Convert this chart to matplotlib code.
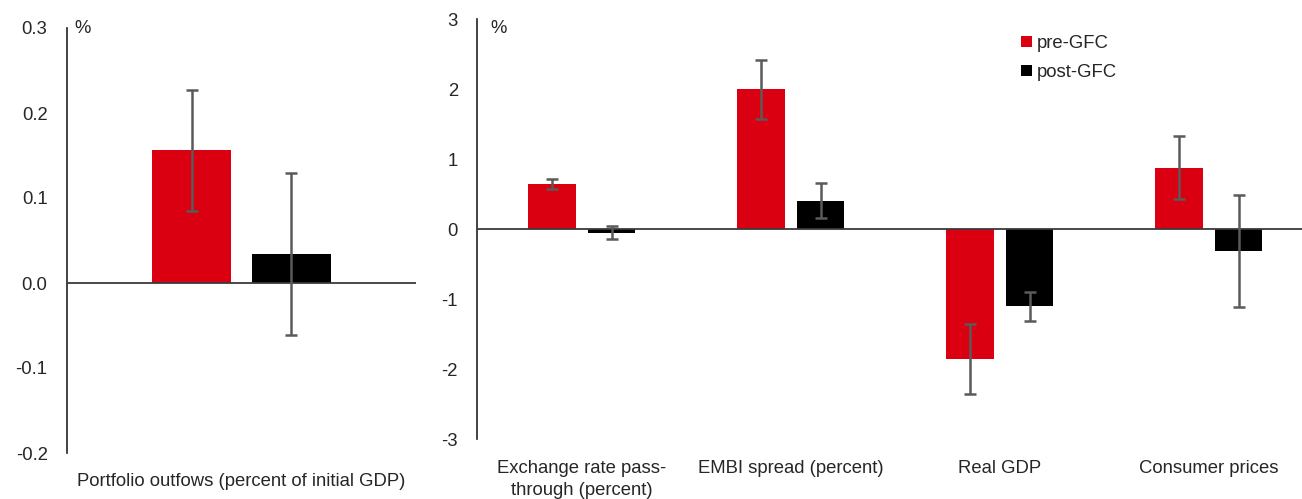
import numpy as np
import matplotlib
matplotlib.use("Agg")
import matplotlib.pyplot as plt

plt.rcParams['font.family'] = ['Liberation Sans', 'DejaVu Sans']

#Series names and colours
series = ["pre-GFC", "post-GFC"]
colors = ["#DB0011", "#000000"]
errColor = "#5a5a5a"
txtColor = "#262626"

#Left panel data
leftCats = ["Portfolio outfows (percent of initial GDP)"]
leftPre = [0.156]
leftPost = [0.034]
leftPreErr = [0.071]
leftPostErr = [0.095]

#Right panel data
rightCats = ["Exchange rate pass-\nthrough (percent)", "EMBI spread (percent)",
             "Real GDP", "Consumer prices"]
rightPre = [0.65, 2.0, -1.85, 0.88]
rightPost = [-0.05, 0.41, -1.10, -0.31]
rightPreErr = [0.07, 0.42, 0.50, 0.45]
rightPostErr = [0.093, 0.245, 0.21, 0.795]

leftTicks = [-0.2, -0.1, 0.0, 0.1, 0.2, 0.3]
leftTickLabels = ["-0.2", "-0.1", "0.0", "0.1", "0.2", "0.3"]
rightTicks = [-3, -2, -1, 0, 1, 2, 3]

W, H = 1302, 499
fs = 13.3
fig = plt.figure(figsize=(W/100, H/100), dpi=100)

#Axes placed in pixel terms
axL = fig.add_axes([67/W, 1 - 453/H, 349/W, 425/H])
axR = fig.add_axes([477.3/W, 1 - 439.3/H, 836/W, 420/H])

barW = 0.226
offs = 0.143

def drawPanel(ax, cats, pre, post, preErr, postErr, ylim, ticks, tickLabels, xpad):
    x = np.arange(len(cats))
    for vals, errs, c, sgn, lab in [(pre, preErr, colors[0], -1, series[0]),
                                    (post, postErr, colors[1], 1, series[1])]:
        ax.bar(x + sgn*offs, vals, width=barW, color=c, label=lab, zorder=2)
        ax.errorbar(x + sgn*offs, vals, yerr=errs, fmt='none', ecolor=errColor,
                    elinewidth=1.8, capsize=4.5, capthick=1.8, zorder=4)
    ax.axhline(0, color="#3a3a3a", lw=1.3, zorder=3)
    ax.set_xlim(-0.5, len(cats) - 0.5)
    ax.set_ylim(*ylim)
    ax.set_yticks(ticks)
    ax.set_yticklabels(tickLabels)
    ax.set_xticks(x)
    ax.set_xticklabels(cats, linespacing=1.4)
    for s in ["top", "right", "bottom"]:
        ax.spines[s].set_visible(False)
    ax.spines["left"].set_color("#222222")
    ax.spines["left"].set_linewidth(1.2)
    ax.tick_params(axis="y", length=0, pad=14, labelsize=fs, labelcolor=txtColor)
    ax.tick_params(axis="x", length=0, pad=xpad, labelsize=fs, labelcolor=txtColor)

drawPanel(axL, leftCats, leftPre, leftPost, leftPreErr, leftPostErr,
          (-0.2, 0.3), leftTicks, leftTickLabels, 14.5)
drawPanel(axR, rightCats, rightPre, rightPost, rightPreErr, rightPostErr,
          (-3, 3), rightTicks, [str(t) for t in rightTicks], 15)

#Unit labels at the top of each axis
fig.text(74/W, 1 - 20/H, "%", ha="left", va="top", fontsize=fs, color=txtColor)
fig.text(490/W, 1 - 20/H, "%", ha="left", va="top", fontsize=fs, color=txtColor)

axR.legend(loc="upper left", bbox_to_anchor=(1021/W, 1 - 35/H),
           bbox_transform=fig.transFigure, frameon=False, fontsize=fs,
           handlelength=0.58, handleheight=0.58, handletextpad=0.3,
           labelspacing=0.65, borderpad=0, borderaxespad=0, labelcolor=txtColor)

fig.savefig("out.png", dpi=100)
